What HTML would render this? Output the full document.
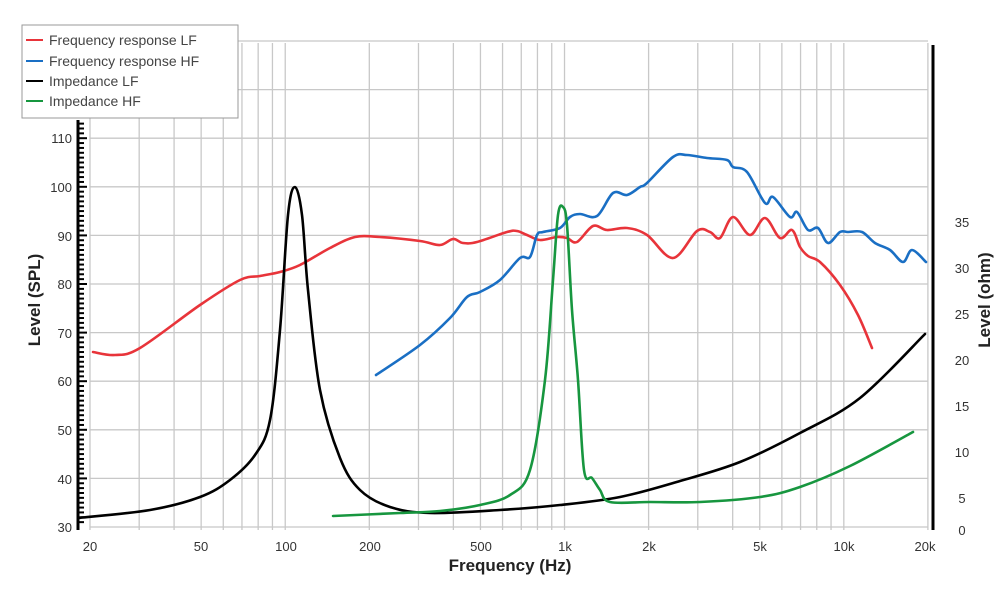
<!DOCTYPE html>
<html><head><meta charset="utf-8"><style>
body{margin:0;background:#fff}
svg{display:block;font-family:"Liberation Sans",sans-serif}
</style></head><body>
<svg id="s" width="1000" height="600" viewBox="0 0 1000 600" xmlns="http://www.w3.org/2000/svg">
<g id="grid" stroke="#c8c8c8" stroke-width="1.3"></g>
<line x1="78" y1="120" x2="78" y2="530" stroke="#000" stroke-width="3"/>
<g id="ticks" stroke="#000" stroke-width="2"></g>
<line x1="933" y1="45" x2="933" y2="530" stroke="#000" stroke-width="3"/>
<g font-size="13" fill="#333" text-anchor="end">
<text x="72" y="143">110</text><text x="72" y="192">100</text><text x="72" y="241">90</text><text x="72" y="289">80</text><text x="72" y="338">70</text><text x="72" y="386">60</text><text x="72" y="435">50</text><text x="72" y="484">40</text><text x="72" y="532">30</text>
</g>
<g font-size="13" fill="#333" text-anchor="middle">
<text x="90" y="551">20</text><text x="201" y="551">50</text><text x="286" y="551">100</text><text x="370" y="551">200</text><text x="481" y="551">500</text><text x="565" y="551">1k</text><text x="649" y="551">2k</text><text x="760" y="551">5k</text><text x="844" y="551">10k</text><text x="925" y="551">20k</text>
<text x="962" y="227">35</text><text x="962" y="273">30</text><text x="962" y="319">25</text><text x="962" y="365">20</text><text x="962" y="411">15</text><text x="962" y="457">10</text><text x="962" y="503">5</text><text x="962" y="535">0</text>
</g>
<text x="510" y="571" font-size="17" font-weight="bold" text-anchor="middle" fill="#222">Frequency (Hz)</text>
<text transform="translate(40,300) rotate(-90)" font-size="17" font-weight="bold" text-anchor="middle" fill="#222">Level (SPL)</text>
<text transform="translate(990,300) rotate(-90)" font-size="17" font-weight="bold" text-anchor="middle" fill="#222">Level (ohm)</text>
<g fill="none" stroke-width="2.6" stroke-linejoin="round" stroke-linecap="round">
<path id="red" stroke="#e8343a"/><path id="blue" stroke="#1a6fc4"/><path id="black" stroke="#000"/><path id="green" stroke="#17963f"/>
</g>
<rect x="22" y="25" width="216" height="93" fill="#fff" stroke="#999" stroke-width="1"/>
<g font-size="14" fill="#444">
<line x1="26" y1="40" x2="43" y2="40" stroke="#e8343a" stroke-width="2"/><text x="49" y="45">Frequency response LF</text>
<line x1="26" y1="61" x2="43" y2="61" stroke="#1a6fc4" stroke-width="2"/><text x="49" y="66">Frequency response HF</text>
<line x1="26" y1="81" x2="43" y2="81" stroke="#000" stroke-width="2"/><text x="49" y="86">Impedance LF</text>
<line x1="26" y1="101" x2="43" y2="101" stroke="#17963f" stroke-width="2"/><text x="49" y="106">Impedance HF</text>
</g>
</svg>
<script>
var ns="http://www.w3.org/2000/svg";
function L(p,a){var e=document.createElementNS(ns,"line");for(var k in a)e.setAttribute(k,a[k]);p.appendChild(e);}
var g=document.getElementById("grid");
var fs=[20,30,40,50,60,70,80,90,100,200,300,400,500,600,700,800,900,1000,2000,3000,4000,5000,6000,7000,8000,9000,10000,20000];
fs.forEach(function(f){var x=90+279.3*Math.log10(f/20);L(g,{x1:x,y1:43,x2:x,y2:530});});
for(var v=30;v<=130;v+=10){var y=527-(v-30)*4.86;L(g,{x1:90,y1:y,x2:928,y2:y});}
var t=document.getElementById("ticks");
for(var v=31;v<=115;v++){var y=527-(v-30)*4.86;if(y<122)break;L(t,{x1:78,y1:y,x2:(v%10==0?87:84),y2:y});}
function sm(p){var d="M"+p[0][0]+","+p[0][1];for(var i=0;i<p.length-1;i++){var p0=p[i-1]||p[i],p1=p[i],p2=p[i+1],p3=p[i+2]||p2;
d+=" C"+(p1[0]+(p2[0]-p0[0])/6)+","+(p1[1]+(p2[1]-p0[1])/6)+" "+(p2[0]-(p3[0]-p1[0])/6)+","+(p2[1]-(p3[1]-p1[1])/6)+" "+p2[0]+","+p2[1];}return d;}
var R=[[93,352],[115,355],[140,348],[200,305],[240,280],[260,276],[280,272],[300,265],[330,248],[355,237],[380,237],[420,241],[440,245],[453,239],[463,243],[477,242],[507,232],[517,231],[527,235],[540,240],[557,237],[567,238],[577,242],[593,226],[607,230],[627,228],[647,235],[673,258],[697,231],[710,232],[720,238],[733,217],[750,235],[765,218],[780,238],[792,230],[800,247],[808,256],[820,262],[840,285],[858,315],[872,348]];
var B=[[376,375],[420,345],[450,318],[467,297],[480,292],[500,280],[520,258],[530,257],[537,235],[543,232],[560,228],[570,217],[580,214],[597,216],[613,193],[627,195],[640,187],[647,183],[673,157],[687,155],[707,158],[727,160],[733,167],[747,172],[765,203],[773,197],[790,217],[797,212],[808,230],[818,228],[828,243],[840,232],[848,232],[862,232],[875,243],[890,250],[903,262],[912,250],[926,262]];
var K=[[78,518],[150,510],[200,497],[230,480],[255,455],[270,420],[280,330],[288,215],[295,187],[302,215],[308,290],[320,390],[340,458],[360,490],[390,507],[430,513],[500,510],[560,505],[620,497],[680,481],[740,462],[800,433],[860,398],[925,334]];
var G=[[333,516],[400,513],[440,511],[480,505],[510,495],[530,470],[545,380],[553,280],[558,215],[563,207],[567,225],[572,310],[578,380],[584,470],[592,478],[600,490],[610,502],[650,502],[700,502],[760,497],[800,487],[850,466],[913,432]];
document.getElementById("red").setAttribute("d",sm(R));
document.getElementById("blue").setAttribute("d",sm(B));
document.getElementById("black").setAttribute("d",sm(K));
document.getElementById("green").setAttribute("d",sm(G));
</script>
</body></html>
